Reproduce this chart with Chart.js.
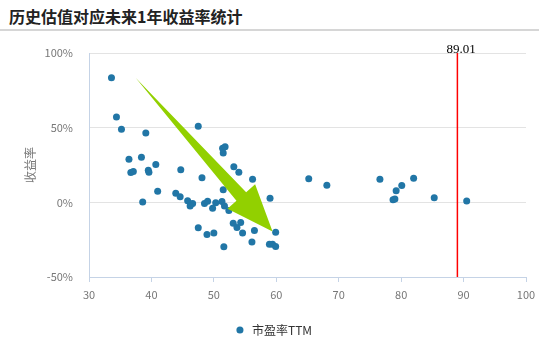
<!DOCTYPE html>
<html><head><meta charset="utf-8">
<script src="https://cdn.jsdelivr.net/npm/chart.js@4.4.1/dist/chart.umd.min.js"></script>
<style>
html,body{margin:0;padding:0;background:#fff;}
#wrap{width:539px;height:347px;position:relative;overflow:hidden;background:#fff;}
#title{position:absolute;left:0;top:0;width:539px;height:31px;border-bottom:2px solid #d6d6d6;font:600 16px "Noto Sans CJK SC",sans-serif;color:#222;line-height:33px;padding-left:9px;box-sizing:border-box;}
#box{position:absolute;left:0;top:32px;width:539px;height:315px;}
</style></head><body>
<div id="wrap">
<div id="title">历史估值对应未来1年收益率统计</div>
<div id="box"><canvas id="c"></canvas></div>
</div>
<script>
// 市盈率TTM (x) and future 1-year return in % (y)
const peValues = [33.6,34.4,35.2,39.1,36.4,38.4,36.7,37.1,39.5,39.6,40.7,41.0,38.6,47.5,51.4,51.8,51.5,44.7,48.1,53.2,54.0,43.9,44.6,45.8,46.3,46.6,46.2,48.5,49.0,49.8,50.3,51.3,51.5,51.7,52.4,47.5,48.9,50.0,51.6,53.1,53.7,54.3,54.6,56.2,56.5,56.1,59.0,59.9,58.9,59.4,59.9,65.2,68.1,76.6,79.2,80.1,82.0,78.7,79.0,85.3,90.5];
const returnValues = [83.5,57.1,48.9,46.5,28.9,30.2,20.0,20.7,21.5,20.2,25.3,7.5,0.2,50.9,36.2,37.3,33.1,21.8,16.5,23.8,20.2,6.0,3.8,1.1,-1.1,-0.7,-2.5,-0.7,0.7,-3.9,-0.3,0.5,8.5,-2.5,-5.5,-17.1,-21.5,-20.5,-29.8,-14.0,-16.9,-13.5,-20.5,15.5,-18.9,-26.5,2.7,-20.0,-28.0,-28.0,-29.5,15.8,11.5,15.5,7.8,11.3,16.2,1.8,2.2,3.1,0.9];
const currentPE = 89.01;
const arrowTail = [37.5, 83.3];
const arrowTip = [59.4, -19.6];
const seriesName = '市盈率TTM';
const yTitle = '收益率';

const cjk = '"Noto Sans CJK SC","Noto Sans",sans-serif';

const refPlugin = {
  id: 'ref',
  afterDatasetsDraw(chart) {
    const {ctx, chartArea: a, scales: {x, y}} = chart;
    ctx.save();
    const px = x.getPixelForValue(currentPE);
    ctx.strokeStyle = '#ff0000';
    ctx.lineWidth = 1.5;
    ctx.beginPath();
    ctx.moveTo(px, a.top);
    ctx.lineTo(px, a.bottom);
    ctx.stroke();
    ctx.fillStyle = '#000';
    ctx.font = '13px "Liberation Serif",serif';
    ctx.textAlign = 'left';
    ctx.textBaseline = 'alphabetic';
    ctx.fillText(currentPE.toFixed(2), px - 11, a.top);
    const tx = x.getPixelForValue(arrowTail[0]), ty = y.getPixelForValue(arrowTail[1]);
    const hx = x.getPixelForValue(arrowTip[0]), hy = y.getPixelForValue(arrowTip[1]);
    const dx = hx - tx, dy = hy - ty, L = Math.hypot(dx, dy);
    const ux = dx / L, uy = dy / L, nx = -uy, ny = ux;
    const headLen = 47, headHalf = 18.5, shaftHalf = 6.5;
    const bx = hx - ux * headLen, by = hy - uy * headLen;
    ctx.fillStyle = '#92d000';
    ctx.beginPath();
    ctx.moveTo(tx, ty);
    ctx.lineTo(bx + nx * shaftHalf, by + ny * shaftHalf);
    ctx.lineTo(bx + nx * headHalf, by + ny * headHalf);
    ctx.lineTo(hx, hy);
    ctx.lineTo(bx - nx * headHalf, by - ny * headHalf);
    ctx.lineTo(bx - nx * shaftHalf, by - ny * shaftHalf);
    ctx.closePath();
    ctx.fill();
    ctx.restore();
  }
};

new Chart(document.getElementById('c'), {
  type: 'scatter',
  data: {
    datasets: [{
      label: seriesName,
      data: peValues.map((v, i) => ({x: v, y: returnValues[i]})),
      backgroundColor: '#2176a6',
      borderColor: '#2176a6',
      borderWidth: 0,
      pointRadius: 3.5,
      pointHoverRadius: 3.5,
      pointStyle: 'circle'
    }]
  },
  options: {
    responsive: true,
    maintainAspectRatio: false,
    animation: false,
    layout: {padding: {left: 20, right: 13, top: 21, bottom: 1}},
    plugins: {
      legend: {
        position: 'bottom',
        labels: {
          usePointStyle: true,
          boxWidth: 12,
          boxHeight: 5,
          padding: 10,
          color: '#333',
          font: {family: cjk, size: 12}
        }
      },
      tooltip: {enabled: false}
    },
    scales: {
      x: {
        type: 'linear',
        min: 30, max: 100,
        afterFit(s) { s.height = 37; s.paddingLeft = 0; s.paddingRight = 0; },
        ticks: {stepSize: 10, color: '#777', padding: 6, font: {family: cjk, size: 11}},
        grid: {drawOnChartArea: false, drawTicks: true, tickLength: 5, color: '#c5d3e6'},
        border: {color: '#c5d3e6', width: 1}
      },
      y: {
        min: -50, max: 100,
        afterFit(s) { s.width = 69; s.paddingTop = 0; s.paddingBottom = 0; },
        ticks: {stepSize: 50, color: '#777', padding: 16, font: {family: cjk, size: 11}, callback: v => v + '%'},
        grid: {color: '#e3e3e3', drawTicks: false},
        border: {color: '#c5d3e6', width: 1},
        title: {display: true, text: yTitle, color: '#777', padding: {top: 3, bottom: 0}, font: {family: cjk, size: 12}}
      }
    }
  },
  plugins: [refPlugin]
});
</script>
</body></html>
